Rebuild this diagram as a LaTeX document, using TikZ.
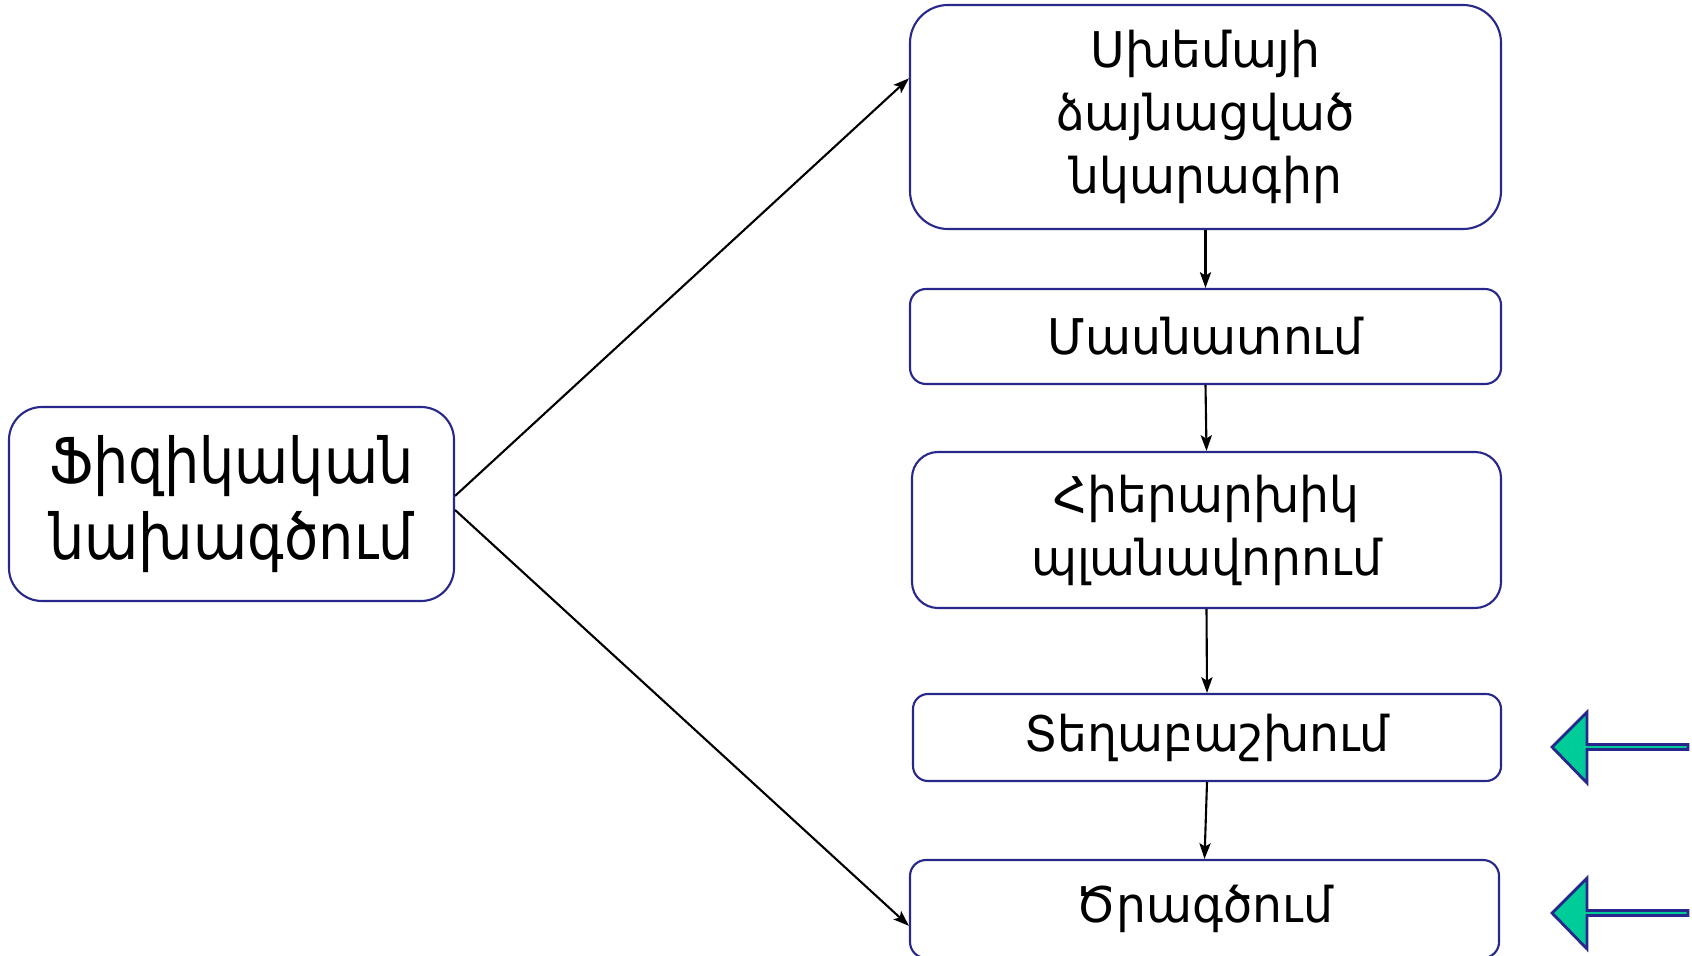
\documentclass[tikz,border=0pt]{standalone}
\usepackage{fontspec}
\setmainfont{DejaVu Sans}[FakeStretch=0.96]
\newfontfamily\widefont{DejaVu Sans}[FakeStretch=0.88]
\usepackage{xcolor}
\usetikzlibrary{arrows.meta}
\definecolor{boxline}{RGB}{40,40,140}
\definecolor{markfill}{RGB}{0,204,153}

\begin{document}
\begin{tikzpicture}[
        stagebox/.style={draw=boxline, line width=0.6pt, fill=white, align=center,
                         inner sep=0pt, font=\fontsize{14}{17.9}\selectfont},
        flow/.style={line width=0.6pt, -{Stealth[length=4.5pt,width=3.2pt,inset=1pt]}},
        marker/.style={draw=boxline, line width=0.8pt, fill=markfill, line join=miter}]
        \useasboundingbox (0,0) rectangle (16.92,9.55);
        \node [stagebox, minimum width=4.45cm, minimum height=1.94cm, rounded corners=0.33cm,
               font=\widefont\fontsize{18}{21.6}\selectfont]
              (phys)   at (2.315,4.51)  {Ֆիզիկական\\նախագծում};               %
        \node [stagebox, minimum width=5.91cm, minimum height=2.24cm, rounded corners=0.38cm]
              (scheme) at (12.055,8.38) {Սխեմայի\\ձայնացված\\նկարագիր};      %
        \node [stagebox, minimum width=5.91cm, minimum height=0.95cm, rounded corners=0.16cm]
              (part)   at (12.055,6.185) {Մասնատում};                        %
        \node [stagebox, minimum width=5.89cm, minimum height=1.56cm, rounded corners=0.26cm]
              (floor)  at (12.065,4.25) {Հիերարխիկ\\պլանավորում};            %
        \node [stagebox, minimum width=5.88cm, minimum height=0.87cm, rounded corners=0.15cm]
              (place)  at (12.07,2.175) {Տեղաբաշխում};                       %
        \node [stagebox, minimum width=5.89cm, minimum height=0.98cm, rounded corners=0.16cm]
              (route)  at (12.045,0.46) {Ծրագծում};                          %
        \draw [flow] ([yshift=2.3pt]phys.east)  -- ([yshift=11pt]scheme.west);  %
        \draw [flow] ([yshift=-1.7pt]phys.east) -- ([yshift=-4.8pt]route.west); %
        \draw [flow] (scheme.south) -- (part.north);                            %
        \draw [flow] (part.south)   -- (floor.north);                           %
        \draw [flow] (floor.south)  -- (place.north);                           %
        \draw [flow] (place.south)  -- (route.north);                           %
        \draw [marker] (15.52,2.08) -- (15.87,2.43) -- (15.87,2.105) -- (16.88,2.105)
                       -- (16.88,2.055) -- (15.87,2.055) -- (15.87,1.72) -- cycle;   %place
        \draw [marker] (15.52,0.42) -- (15.87,0.77) -- (15.87,0.445) -- (16.88,0.445)
                       -- (16.88,0.395) -- (15.87,0.395) -- (15.87,0.06) -- cycle;  %route
\end{tikzpicture}
\end{document}
